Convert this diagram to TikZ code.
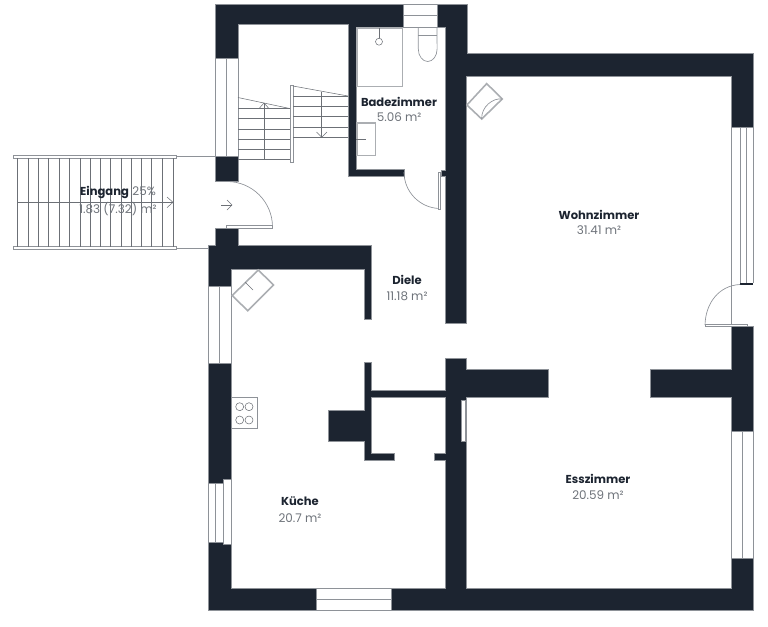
\documentclass[tikz,border=0pt]{standalone}
\usepackage{fontspec}
\setmainfont{Poppins}
\usepackage{tikz}
\definecolor{wallcol}{HTML}{1C2430}
\definecolor{linecol}{HTML}{8E9298}
\definecolor{stepcol}{HTML}{6C7076}
\definecolor{areacol}{HTML}{6E737A}
\definecolor{fixcol}{HTML}{ABAEB2}
\tikzset{
	wall/.style={fill=wallcol, draw=linecol, line width=0.3pt},
	pane/.style={draw=linecol, line width=0.6pt, fill=white},
	fixture/.style={draw=fixcol, line width=1.2pt},
	thin line/.style={draw=stepcol, line width=0.4pt},
	room/.style={font=\fontsize{8.7}{10}\selectfont\bfseries, text=wallcol, inner sep=0pt},
	area/.style={font=\fontsize{9}{10}\selectfont, text=areacol, inner sep=0pt},
}

\begin{document}
\begin{tikzpicture}[x=0.0265cm, y=-0.0265cm]
	\useasboundingbox (0,0) rectangle (768,626);

	% walls
	\filldraw [wall] (215.5,4.5) -- (403,4.5) -- (403,27) -- (356,27) -- (356,169.5) -- (404,169.5) -- (404,176) -- (348,176) -- (348,24) -- (238,24) -- (238,58) -- (215.5,58) -- cycle;
	\filldraw [wall] (215.5,156) rectangle (238,181);
	\filldraw [wall] (437,4.5) -- (467,4.5) -- (467,53.5) -- (753,53.5) -- (753,127) -- (731,127) -- (731,76) -- (466,76) -- (466,323.5) -- (445,323.5) -- (445,176) -- (441,176) -- (441,170) -- (445,170) -- (445,27) -- (437,27) -- cycle;
	\filldraw [wall] (215.5,228) -- (238,228) -- (238,245) -- (371,245) -- (371,319.5) -- (364,319.5) -- (364,269) -- (231,269) -- (231,286.5) -- (208.5,286.5) -- (208.5,245) -- (215.5,245) -- cycle;
	\filldraw [wall] (208.5,363) rectangle (231,483);
	\filldraw [wall] (208.5,542) -- (231,542) -- (231,588) -- (316,588) -- (316,610) -- (208.5,610) -- cycle;
	\filldraw [wall] (391,588) -- (445,588) -- (445,460) -- (434,460) -- (434,453.5) -- (445,453.5) -- (445,397.5) -- (371,397.5) -- (371,453.5) -- (394,453.5) -- (394,460.5) -- (364,460.5) -- (364,441.5) -- (328,441.5) -- (328,410) -- (364,410) -- (364,362) -- (371,362) -- (371,390.5) -- (445,390.5) -- (445,358.5) -- (466,358.5) -- (466,369.5) -- (548,369.5) -- (548,397.5) -- (466,397.5) -- (466,588) -- (731,588) -- (731,558.5) -- (753,558.5) -- (753,610) -- (391,610) -- cycle;
	\filldraw [wall] (650,369.5) -- (731,369.5) -- (731,326) -- (753,326) -- (753,431) -- (731,431) -- (731,397.5) -- (650,397.5) -- cycle;
	\fill [wallcol] (740,282.5) rectangle (753,284.5);

	% windows
	\filldraw [pane] (403,4.5) rectangle (437,27);
	\draw [pane] (403,15.5) -- (437,15.5);
	\filldraw [pane] (215.5,58) rectangle (238,156);
	\draw [pane] (226.7,58) -- (226.7,156);
	\filldraw [pane] (208.5,286.5) rectangle (231,363);
	\draw [pane] (219.7,286.5) -- (219.7,363);
	\filldraw [pane] (208.5,483) rectangle (223,542);
	\draw [pane] (215.7,483) -- (215.7,542);
	\filldraw [pane] (223,479) rectangle (231,544);
	\filldraw [pane] (316,588) rectangle (391,610);
	\draw [pane] (316,599.3) -- (391,599.3);
	\filldraw [pane] (461,400) rectangle (465.5,441);
	\draw [pane] (731,127) -- (731,326);
	\draw [pane] (740,127) -- (740,282.5);
	\draw [pane] (746,127) -- (746,282.5);
	\draw [pane] (753,127) -- (753,282.5);
	\filldraw [pane] (731,431) rectangle (753,558.5);
	\draw [pane] (742,431) -- (742,558.5);

	% doors
	\draw [pane, fill=none, line width=0.5pt] (227,181.5) arc (-90:0:45.5);
	\filldraw [pane] (226.7,225.7) rectangle (272.7,228);
	\draw [stepcol, line width=0.4pt] (221,205) -- (232,205);
	\draw [stepcol, line width=0.4pt] (227,200) -- (232,205) -- (227,210);
	\draw [pane, fill=none, line width=0.5pt] (404,172) arc (180:90:36.5);
	\filldraw [pane] (438.7,172.7) rectangle (440.7,209.3);
	\draw [pane, fill=none, line width=0.5pt] (705,325) .. controls (705.5,303) and (719,285.5) .. (740,284.5);
	\filldraw [pane] (705,324.5) rectangle (747,326.5);

	% entrance stairs
	\draw [pane] (13,155.3) rectangle (176,158);
	\draw [pane] (13,246.7) rectangle (176,249.3);
	\draw [pane] (176,156.6) -- (215.5,156.6);
	\draw [pane] (176,248) -- (208.5,248);
	\foreach \s in {17.3,28,38.3,48.7,59.3,69.7,80,90.3,100.7,110.7,121,131,141.3,151.7,162.7,173}
		\draw [thin line] (\s,158) -- (\s,246.7);
	\draw [thin line] (17.3,202.3) -- (173,202.3);
	\draw [thin line] (167,197) -- (173,202.3) -- (167,207.6);

	% inner stairs
	\draw [thin line] (238,97.5) -- (290.7,108.7);
	\foreach \s in {108.7,118.7,129,139.3,149.3,159.7}
		\draw [thin line] (238,\s) -- (290.7,\s);
	\draw [thin line] (264,103) -- (264,159.7);
	\draw [thin line] (259.5,108) -- (264,103) -- (268.5,108);
	\filldraw [pane, line width=0.4pt] (290.7,85.7) rectangle (293,162.3);
	\draw [thin line] (293,86) -- (348,96);
	\foreach \s in {96,106.7,116.7,127,137.3}
		\draw [thin line] (293,\s) -- (348,\s);
	\draw [thin line] (321.7,91.7) -- (321.7,137.3);
	\draw [thin line] (316.5,132) -- (321.7,137.3) -- (326.9,132);

	% bathroom
	\draw [fixture] (356.8,28.2) rectangle (402.3,86.3);
	\draw [thin line] (379,28) -- (379,38.2);
	\draw [thin line] (379,41.7) circle (3.5);
	\draw [pane, fill=none, line width=0.5pt] (418.3,27) -- (418.3,49) arc (180:0:9.4 and 12.5) -- (437,27);
	\draw [pane, line width=0.5pt] (418.3,35.7) -- (437,35.7);
	\draw [fixture] (356.8,123) rectangle (375.3,155.4);
	\draw [thin line] (356,139.3) -- (365.7,139.3);

	% kitchen
	\draw [fixture] (258.3,270) -- (273.5,285) -- (247.7,310.7) -- (232.2,295.5) -- cycle;
	\draw [thin line] (245.3,282.3) -- (253,290);
	\draw [pane, line width=0.5pt] (231,397.7) rectangle (257.7,428.7);
	\foreach \p in {239.7,249}
		\foreach \q in {406.7,420}
			\draw [thin line] (\p,\q) circle (4);

	% living room
	\draw [fixture] (486.7,83.6) -- (502.2,99) -- (481.7,119) -- (466.9,105) -- cycle;
	\draw [pane, fill=none, line width=0.5pt] (502.2,99) .. controls (493,97.5) and (481,107) .. (481.7,119);

	% labels
	\node [room] (bad) at (399,102) {Badezimmer};
	\node [area] (badarea) at (399,117) {5.06 m²};
	\node [room] (wohnen) at (599,215) {Wohnzimmer};
	\node [area] (wohnenarea) at (599,230) {31.41 m²};
	\node [room] (diele) at (407,280) {Diele};
	\node [area] (dielearea) at (407,296) {11.18 m²};
	\node [inner sep=0pt] (eingang) at (118,192.5) {{\fontsize{8.7}{10}\selectfont\bfseries\color{wallcol}Eingang} {\fontsize{9}{10}\selectfont\color{areacol}25\%}};
	\node [area] (eingangarea) at (118,209) {1.83 (7.32) m²};
	\node [room] (kueche) at (300,501) {Küche};
	\node [area] (kuechearea) at (300,518) {20.7 m²};
	\node [room] (essen) at (598,479) {Esszimmer};
	\node [area] (essenarea) at (598,495) {20.59 m²};
\end{tikzpicture}
\end{document}
